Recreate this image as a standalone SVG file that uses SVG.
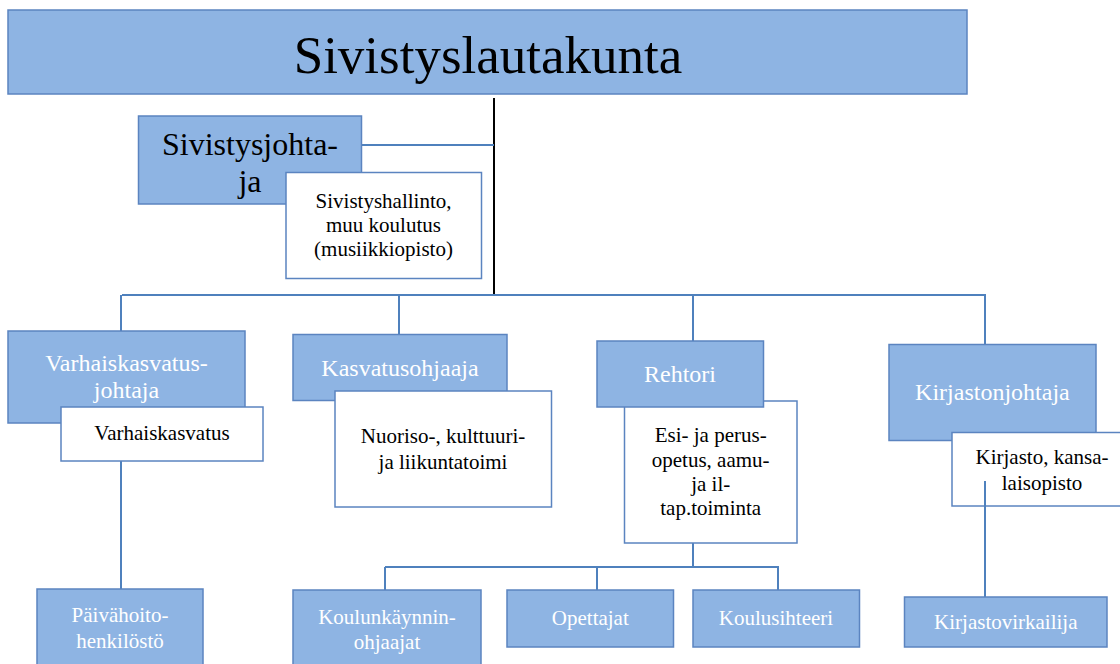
<svg xmlns="http://www.w3.org/2000/svg" width="1120" height="664" viewBox="0 0 1120 664">
<style>
.blue{fill:#8EB4E3;stroke:#5B84C0;stroke-width:1.5}
.white{fill:#FFFFFF;stroke:#5B84C0;stroke-width:1.5}
.conn{stroke:#4F81BD;stroke-width:2;fill:none}
.tw{fill:#FFFFFF;text-anchor:middle}
.tb{fill:#000000;text-anchor:middle}
</style>
<rect width="1120" height="664" fill="#FFFFFF"/>
<g font-family="Liberation Serif">
<g id="node-sivistyslautakunta">
<rect class="blue" x="8" y="10" width="959" height="84"/>
<text class="tb" x="488" y="73" font-size="53">Sivistyslautakunta</text>
</g>
<g id="connectors">
<line x1="494" y1="98" x2="494" y2="296" stroke="#000000" stroke-width="2"/>
<line class="conn" x1="361" y1="145" x2="494" y2="145"/>
<line class="conn" x1="122" y1="295" x2="986" y2="295"/>
<line class="conn" x1="121" y1="295" x2="121" y2="341"/>
<line class="conn" x1="399" y1="295" x2="399" y2="335"/>
<line class="conn" x1="693" y1="295" x2="693" y2="341"/>
<line class="conn" x1="985" y1="295" x2="985" y2="345"/>
<line class="conn" x1="121" y1="461" x2="121" y2="590"/>
<line class="conn" x1="693" y1="543" x2="693" y2="567"/>
<line class="conn" x1="385" y1="567" x2="779" y2="567"/>
<line class="conn" x1="385" y1="567" x2="385" y2="590"/>
<line class="conn" x1="597" y1="567" x2="597" y2="590"/>
<line class="conn" x1="778" y1="567" x2="778" y2="590"/>
</g>
<g id="node-sivistysjohtaja">
<rect class="blue" x="138.5" y="116" width="223" height="88"/>
<text class="tb" x="250" y="155" font-size="32">Sivistysjohta-</text>
<text class="tb" x="250" y="192" font-size="32">ja</text>
</g>
<g id="node-sivistyshallinto">
<rect class="white" x="286" y="172.5" width="195.5" height="106"/>
<text class="tb" x="383.5" y="207.5" font-size="21">Sivistyshallinto,</text>
<text class="tb" x="383.5" y="232" font-size="21">muu koulutus</text>
<text class="tb" x="383.5" y="256" font-size="21">(musiikkiopisto)</text>
</g>
<g id="node-varhaiskasvatusjohtaja">
<rect class="blue" x="8" y="331" width="237" height="92"/>
<text class="tw" x="126.5" y="371" font-size="24">Varhaiskasvatus-</text>
<text class="tw" x="126.5" y="398" font-size="24">johtaja</text>
</g>
<g id="node-varhaiskasvatus">
<rect class="white" x="61" y="407" width="202" height="54"/>
<text class="tb" x="162" y="440" font-size="21">Varhaiskasvatus</text>
</g>
<g id="node-kasvatusohjaaja">
<rect class="blue" x="293" y="334.5" width="214" height="66"/>
<text class="tw" x="400" y="376" font-size="24">Kasvatusohjaaja</text>
</g>
<g id="node-nuoriso">
<rect class="white" x="335" y="391" width="216.5" height="116"/>
<text class="tb" x="443" y="442.5" font-size="21">Nuoriso-, kulttuuri-</text>
<text class="tb" x="443" y="468.5" font-size="21">ja liikuntatoimi</text>
</g>
<g id="node-esiopetus">
<rect class="white" x="624.5" y="401" width="172.5" height="142"/>
<text class="tb" x="710.7" y="441.5" font-size="21">Esi- ja perus-</text>
<text class="tb" x="710.7" y="466.5" font-size="21">opetus, aamu-</text>
<text class="tb" x="710.7" y="490.5" font-size="21">ja il-</text>
<text class="tb" x="710.7" y="515" font-size="21">tap.toiminta</text>
</g>
<g id="node-rehtori">
<rect class="blue" x="597" y="341" width="166.5" height="66"/>
<text class="tw" x="680" y="381.5" font-size="24">Rehtori</text>
</g>
<g id="node-kirjastonjohtaja">
<rect class="blue" x="889" y="344.5" width="207" height="96"/>
<text class="tw" x="992.4" y="400" font-size="24">Kirjastonjohtaja</text>
</g>
<g id="node-kirjasto">
<rect class="white" x="952" y="432.5" width="180" height="73.5"/>
<text class="tb" x="1042" y="464" font-size="21">Kirjasto, kansa-</text>
<text class="tb" x="1042" y="489.5" font-size="21">laisopisto</text>
</g>
<g id="connector-kirjasto">
<line class="conn" x1="985" y1="481" x2="985" y2="597"/>
</g>
<g id="node-paivahoito">
<rect class="blue" x="37" y="589" width="166" height="90"/>
<text class="tw" x="120" y="622" font-size="21">Päivähoito-</text>
<text class="tw" x="120" y="647.5" font-size="21">henkilöstö</text>
</g>
<g id="node-koulunkaynninohjaajat">
<rect class="blue" x="293" y="590" width="188" height="90"/>
<text class="tw" x="387" y="623.5" font-size="21">Koulunkäynnin-</text>
<text class="tw" x="387" y="648.5" font-size="21">ohjaajat</text>
</g>
<g id="node-opettajat">
<rect class="blue" x="507" y="590" width="166.5" height="57"/>
<text class="tw" x="590.3" y="625" font-size="21">Opettajat</text>
</g>
<g id="node-koulusihteeri">
<rect class="blue" x="693" y="590" width="166.5" height="57"/>
<text class="tw" x="776" y="625" font-size="21">Koulusihteeri</text>
</g>
<g id="node-kirjastovirkailija">
<rect class="blue" x="904.5" y="597" width="202.5" height="50"/>
<text class="tw" x="1005.8" y="628.5" font-size="21">Kirjastovirkailija</text>
</g>
</g>
</svg>
